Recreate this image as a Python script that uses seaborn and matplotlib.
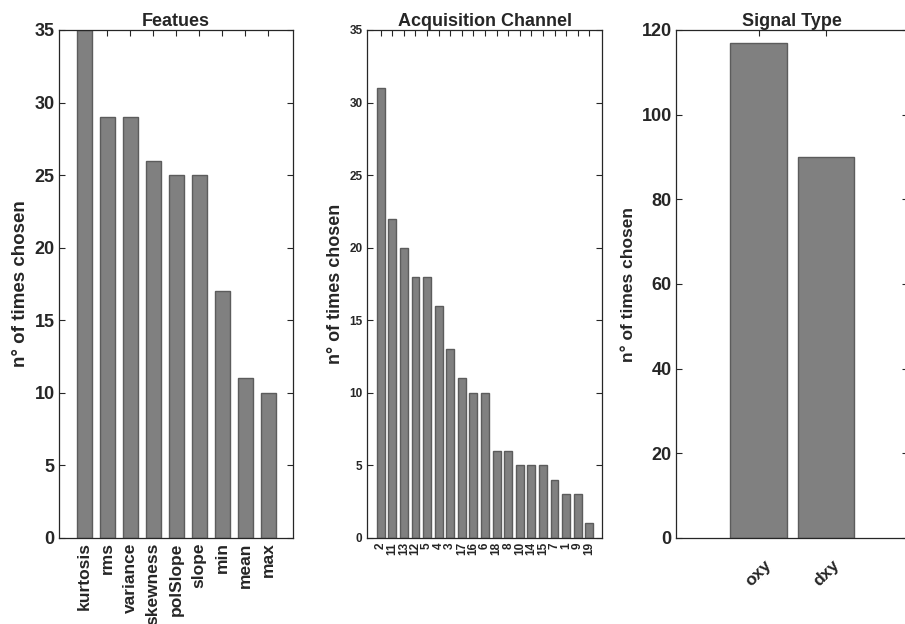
import matplotlib
matplotlib.use("Agg")
import matplotlib.pyplot as plt
import seaborn as sns
import pandas as pd

feature_names = ["kurtosis", "rms", "variance", "skewness", "polSlope", "slope", "min", "mean", "max"]
feature_counts = [35, 29, 29, 26, 25, 25, 17, 11, 10]

channel_names = ["2", "11", "13", "12", "5", "4", "3", "17", "16", "6", "18", "8", "10", "14", "15", "7", "1", "9", "19"]
channel_counts = [31, 22, 20, 18, 18, 16, 13, 11, 10, 10, 6, 6, 5, 5, 5, 4, 3, 3, 1]

signal_names = ["oxy", "dxy"]
signal_counts = [117, 90]

sns.set_style("ticks")
plt.rcParams["font.family"] = ["Liberation Sans", "DejaVu Sans"]
plt.rcParams["font.weight"] = "bold"
plt.rcParams["axes.labelweight"] = "bold"
plt.rcParams["axes.titleweight"] = "bold"

W, H = 905, 624
fig = plt.figure(figsize=(W / 100, H / 100), dpi=100)

def px_axes(left, right, top=30, bottom=538):
    return fig.add_axes([left / W, 1 - bottom / H, (right - left) / W, (bottom - top) / H])

spine_col = "#262626"
bar_col = "#808080"
edge_col = "#5c5c5c"

def style(ax, tick_fs, xlim, ylim, yticks, title, title_fs, ylabel_fs, xrot, xfs, xpad=3):
    ax.set_xlim(*xlim)
    ax.set_ylim(*ylim)
    ax.set_yticks(yticks)
    ax.set_xlabel("")
    ax.set_ylabel("n° of times chosen", fontsize=ylabel_fs, fontweight="bold", color="#262626")
    ax.set_title(title, fontsize=title_fs, fontweight="bold", pad=3)
    for s in ax.spines.values():
        s.set_visible(True)
        s.set_color(spine_col)
        s.set_linewidth(0.9)
    ax.tick_params(axis="both", direction="in", length=4, width=0.8, color=spine_col,
                   top=True, right=True, labelcolor="#262626")
    ax.tick_params(axis="y", labelsize=tick_fs, pad=3)
    ax.tick_params(axis="x", labelsize=xfs, pad=xpad)
    for lab in ax.get_xticklabels():
        lab.set_rotation(xrot)
        lab.set_ha("center")
        lab.set_va("top")
        lab.set_fontweight("bold")
    for lab in ax.get_yticklabels():
        lab.set_fontweight("bold")

# Panel 1
ax1 = px_axes(59, 293)
df1 = pd.DataFrame({"feature": feature_names, "count": feature_counts})
sns.barplot(data=df1, x="feature", y="count", order=feature_names, color=bar_col,
            saturation=1, width=0.65, edgecolor=edge_col, linewidth=1, ax=ax1)
style(ax1, 13, (-1.1, 9.07), (0, 35), range(0, 36, 5), "Featues", 13, 13.5, 90, 12.5)

# Panel 2
ax2 = px_axes(366.7, 602.3)
df2 = pd.DataFrame({"channel": channel_names, "count": channel_counts})
sns.barplot(data=df2, x="channel", y="count", order=channel_names, color=bar_col,
            saturation=1, width=0.68, edgecolor=edge_col, linewidth=1, ax=ax2)
style(ax2, 8.5, (-1.21, 19.12), (0, 35), range(0, 36, 5), "Acquisition Channel", 13, 13, 90, 8.5)

# Panel 3
ax3 = px_axes(676, 908)
df3 = pd.DataFrame({"signal": signal_names, "count": signal_counts})
sns.barplot(data=df3, x="signal", y="count", order=signal_names, color=bar_col,
            saturation=1, width=0.83, edgecolor=edge_col, linewidth=1, ax=ax3)
style(ax3, 13, (-1.22, 2.21), (0, 120), range(0, 121, 20), "Signal Type", 13, 12.5, 45, 12.5, xpad=14)

fig.savefig("out.png", dpi=100)
